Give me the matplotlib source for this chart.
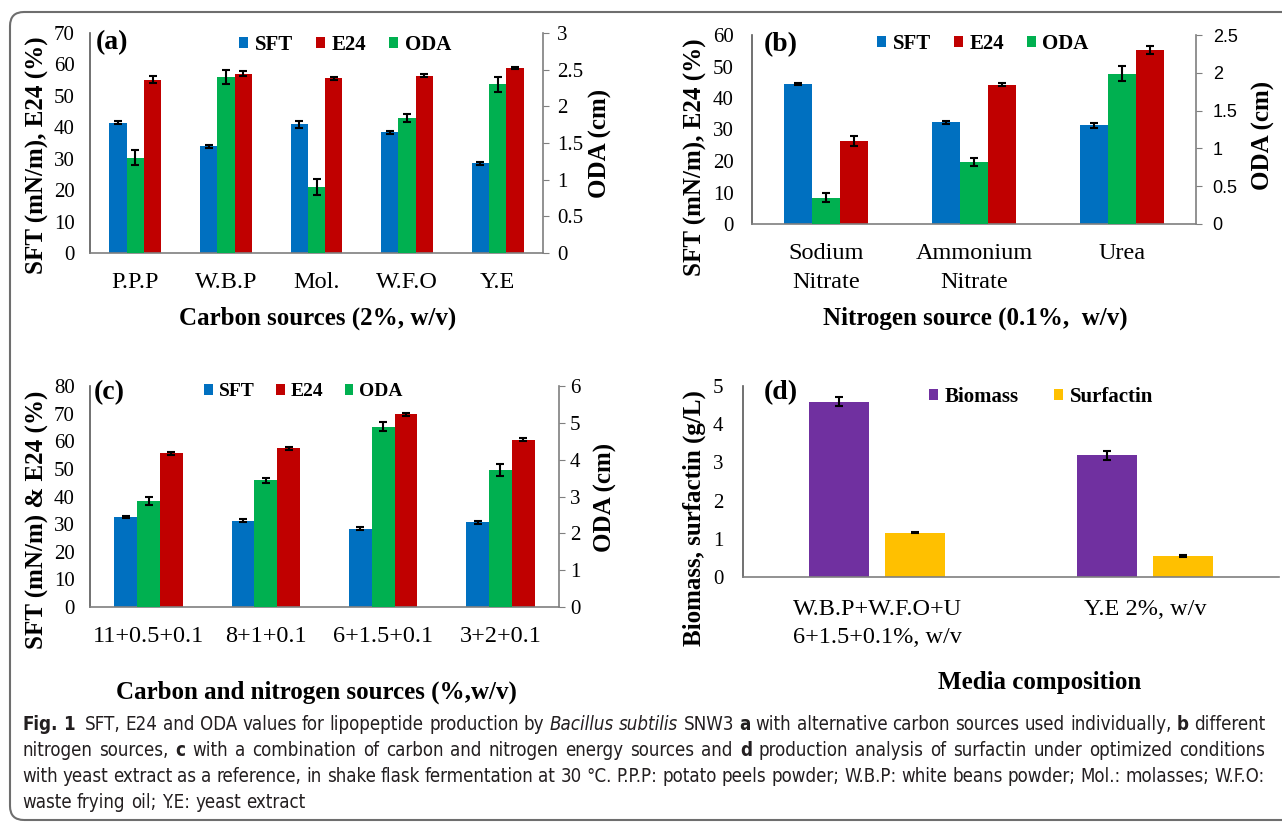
import os
import matplotlib
matplotlib.use("Agg")
import matplotlib.pyplot as plt
import matplotlib.transforms as mtransforms
from matplotlib.patches import FancyBboxPatch
from matplotlib import font_manager
from matplotlib.font_manager import FontProperties
from matplotlib.ticker import FuncFormatter
import numpy as np

# ---- data ----
carbon = ["P.P.P", "W.B.P", "Mol.", "W.F.O", "Y.E"]
a_sft = [41.4, 33.9, 41.0, 38.4, 28.5]
a_sft_err = [0.5, 0.5, 1.1, 0.4, 0.4]
a_e24 = [55.2, 57.1, 55.6, 56.4, 58.9]
a_e24_err = [1.0, 0.8, 0.5, 0.5, 0.3]
a_oda = [1.30, 2.40, 0.90, 1.84, 2.30]
a_oda_err = [0.10, 0.10, 0.11, 0.06, 0.10]

nitrogen = ["Sodium\nNitrate", "Ammonium\nNitrate", "Urea"]
b_sft = [44.4, 32.3, 31.3]
b_sft_err = [0.4, 0.4, 0.8]
b_e24 = [26.3, 44.2, 55.2]
b_e24_err = [1.6, 0.5, 1.2]
b_oda = [0.35, 0.82, 1.99]
b_oda_err = [0.06, 0.05, 0.10]

combo = ["11+0.5+0.1", "8+1+0.1", "6+1.5+0.1", "3+2+0.1"]
c_sft = [32.6, 31.2, 28.4, 30.6]
c_sft_err = [0.5, 0.6, 0.5, 0.5]
c_e24 = [55.6, 57.4, 69.7, 60.6]
c_e24_err = [0.5, 0.4, 0.5, 0.5]
c_oda = [2.88, 3.44, 4.89, 3.72]
c_oda_err = [0.12, 0.06, 0.12, 0.16]

media = ["W.B.P+W.F.O+U\n6+1.5+0.1%, w/v", "Y.E 2%, w/v"]
d_biomass = [4.59, 3.19]
d_biomass_err = [0.12, 0.12]
d_surf = [1.16, 0.55]
d_surf_err = [0.02, 0.02]

BLUE, RED, GREEN = "#0070C0", "#C00000", "#00B050"
PURPLE, GOLD = "#7030A0", "#FFC000"
SPINE = "#7f7f7f"
SERIF = "Liberation Serif"
SANS = "Liberation Sans"

W, H = 1282, 822
fig = plt.figure(figsize=(W / 100, H / 100), dpi=100)
plt.rcParams["font.family"] = SERIF


def px_axes(l, r, b, t):
    return fig.add_axes([l / W, 1 - b / H, (r - l) / W, (b - t) / H])


def style_left(ax, pad):
    for s in ["top", "right"]:
        ax.spines[s].set_visible(False)
    ax.spines["left"].set_color("#595959")
    ax.spines["bottom"].set_color(SPINE)
    ax.spines["left"].set_linewidth(1.2)
    ax.spines["bottom"].set_linewidth(1.2)
    ax.tick_params(axis="y", length=0, pad=pad, labelsize=15)
    ax.tick_params(axis="x", length=0, labelsize=17.5)


def style_right(ax2, family, size, pad):
    for s in ["top", "left", "bottom"]:
        ax2.spines[s].set_visible(False)
    ax2.spines["right"].set_color(SPINE)
    ax2.spines["right"].set_linewidth(1.2)
    ax2.tick_params(axis="y", length=4, color=SPINE, pad=pad, labelsize=size)
    for lab in ax2.get_yticklabels():
        lab.set_family(family)
    ax2.yaxis.set_major_formatter(FuncFormatter(lambda v, p: "%g" % v))


ekw = dict(ecolor="black", elinewidth=1.5, capsize=3, capthick=1.5)


def triple_panel(box, cats, sft, sft_e, oda, oda_e, e24, e24_e, ymax, ystep,
                 omax, ostep, w, rfam, rsize, rpad, lpad, xpad, letter, letpos,
                 legpos, legsize, xlabel, xlpos, ylabel, ylpos, rlpos):
    ax = px_axes(*box)
    x = np.arange(len(cats))
    ax.bar(x - w, sft, w, color=BLUE, yerr=sft_e, error_kw=ekw, label="SFT")
    ax.bar(x + w, e24, w, color=RED, yerr=e24_e, error_kw=ekw, label="E24")
    ax.set_xlim(-0.5, len(cats) - 0.5)
    ax.set_ylim(0, ymax)
    ax.set_yticks(np.arange(0, ymax + 0.01, ystep))
    ax.set_xticks(x)
    ax.set_xticklabels(cats)
    for lab in ax.get_xticklabels():
        lab.set_linespacing(1.45)
    style_left(ax, lpad)
    ax.tick_params(axis="x", pad=xpad)
    ax2 = ax.twinx()
    ax2.bar(x, oda, w, color=GREEN, yerr=oda_e, error_kw=ekw, label="ODA")
    ax2.set_ylim(0, omax)
    ax2.set_yticks(np.arange(0, omax + 0.001, ostep))
    style_right(ax2, rfam, rsize, rpad)
    h1, l1 = ax.get_legend_handles_labels()
    h2, l2 = ax2.get_legend_handles_labels()
    ax2.legend(h1 + h2, l1 + l2, loc="center", bbox_to_anchor=legpos,
               ncol=3, frameon=False, handlelength=0.45,
               handleheight=0.45, handletextpad=0.3, columnspacing=1.1,
               prop=dict(family=SERIF, weight="bold", size=legsize))
    ax.text(letpos[0], letpos[1], letter, transform=ax.transAxes, ha="left",
            va="center", fontsize=20, fontweight="bold")
    ax.set_xlabel(xlabel, fontsize=18, fontweight="bold")
    ax.xaxis.set_label_coords(*xlpos)
    ax.xaxis.label.set_va("center")
    ax.set_ylabel(ylabel, fontsize=18, fontweight="bold")
    ax.yaxis.set_label_coords(*ylpos)
    ax.yaxis.label.set_va("center")
    ax2.set_ylabel("ODA (cm)", fontsize=18, fontweight="bold")
    ax2.yaxis.set_label_coords(*rlpos)
    ax2.yaxis.label.set_va("center")
    return ax, ax2


# (a)
triple_panel((90, 543, 253, 33), carbon, a_sft, a_sft_err, a_oda, a_oda_err,
             a_e24, a_e24_err, 70, 10, 3, 0.5, 0.19, SERIF, 15, 6, 11, 14,
             "(a)", (0.013, 0.955), (0.563, 0.945), 15,
             "Carbon sources (2%, w/v)", (0.503, -0.295),
             "SFT (mN/m), E24 (%)", (-0.115, 0.445), (1.126, 0.5))

# (b)
triple_panel((752, 1196, 224, 35), nitrogen, b_sft, b_sft_err, b_oda,
             b_oda_err, b_e24, b_e24_err, 60, 10, 2.5, 0.5, 0.19, SANS, 13, 8,
             13, 14, "(b)", (0.027, 0.947), (0.52, 0.952), 15,
             "Nitrogen source (0.1%,  w/v)", (0.502, -0.497),
             "SFT (mN/m), E24 (%)", (-0.128, 0.354), (1.153, 0.466))

# (c)
triple_panel((90, 559, 607, 386), combo, c_sft, c_sft_err, c_oda, c_oda_err,
             c_e24, c_e24_err, 80, 10, 6, 1, 0.195, SERIF, 15, 4, 11, 14,
             "(c)", (0.009, 0.968), (0.455, 0.973), 14,
             "Carbon and nitrogen sources (%,w/v)", (0.482, -0.385),
             "SFT (mN/m) & E24 (%)", (-0.113, 0.396), (1.10, 0.498))

# (d)
axd = px_axes(743, 1279, 577, 386)
xd = np.arange(len(media))
wd = 0.224
axd.bar(xd - 0.142, d_biomass, wd, color=PURPLE, yerr=d_biomass_err,
        error_kw=ekw, label="Biomass")
axd.bar(xd + 0.142, d_surf, wd, color=GOLD, yerr=d_surf_err, error_kw=ekw,
        label="Surfactin")
axd.set_xlim(-0.5, len(media) - 0.5)
axd.set_ylim(0, 5)
axd.set_yticks(range(0, 6))
axd.set_xticks(xd)
axd.set_xticklabels(media)
for lab in axd.get_xticklabels():
    lab.set_linespacing(1.4)
style_left(axd, 14)
axd.tick_params(axis="x", pad=16)
axd.legend(loc="center", bbox_to_anchor=(0.556, 0.942), ncol=2, frameon=False,
           handlelength=0.45, handleheight=0.45, handletextpad=0.3,
           columnspacing=1.7, prop=dict(family=SERIF, weight="bold", size=15))
axd.text(0.039, 0.963, "(d)", transform=axd.transAxes, ha="left", va="center",
         fontsize=20, fontweight="bold")
axd.set_xlabel("Media composition", fontsize=18, fontweight="bold")
axd.xaxis.set_label_coords(0.554, -0.55)
axd.xaxis.label.set_va("center")
axd.set_ylabel("Biomass, surfactin (g/L)", fontsize=18, fontweight="bold")
axd.yaxis.set_label_coords(-0.09, 0.31)
axd.yaxis.label.set_va("center")

# ---- frame ----
frame = FancyBboxPatch((10, H - 820), 1320, 808,
                       boxstyle="round,pad=0,rounding_size=14",
                       transform=mtransforms.IdentityTransform(),
                       facecolor="none", edgecolor="#6e6e6e", linewidth=1.5)
fig.patches.append(frame)

# ---- caption ----
files = {os.path.basename(f.fname): f.fname for f in font_manager.fontManager.ttflist}
cap_files = None
for trio in [("LiberationSansNarrow-Regular.ttf", "LiberationSansNarrow-Bold.ttf",
              "LiberationSansNarrow-Italic.ttf"),
             ("DejaVuSansCondensed.ttf", "DejaVuSansCondensed-Bold.ttf",
              "DejaVuSansCondensed-Oblique.ttf")]:
    if all(t in files for t in trio):
        cap_files = [files[t] for t in trio]
        break

CAP = "#231F20"
N, B, I = "normal", "bold", "italic"


def cap_fp(st, size):
    if cap_files:
        return FontProperties(fname=cap_files[[N, B, I].index(st)], size=size)
    return FontProperties(family="DejaVu Sans", size=size,
                          weight="bold" if st == B else "normal",
                          style="italic" if st == I else "normal")


caption = [
    [("Fig. 1", B), ("", N), ("SFT, E24 and ODA values for lipopeptide production by", N),
     ("Bacillus subtilis", I), ("SNW3", N), ("a", B),
     ("with alternative carbon sources used individually,", N), ("b", B),
     ("different", N)],
    [("nitrogen sources,", N), ("c", B),
     ("with a combination of carbon and nitrogen energy sources and", N),
     ("d", B), ("production analysis of surfactin under optimized conditions", N)],
    [("with yeast extract as a reference, in shake flask fermentation at 30 °C. "
      "P.P.P: potato peels powder; W.B.P: white beans powder; Mol.: molasses; W.F.O:", N)],
    [("waste frying oil; Y.E: yeast extract", N)],
]
justify = [True, True, True, False]
x0, target = 22, 1243
line_y = [724, 750, 776, 802]
renderer = fig.canvas.get_renderer()


def tokens(line):
    out = []
    for s, st in line:
        if s == "":
            out.append(("", st))
        for wd_ in s.split(" "):
            if wd_:
                out.append((wd_, st))
    return out


def text_w(s, st, size):
    if s == "":
        return 0.0
    t = fig.text(0, 0, s, fontproperties=cap_fp(st, size))
    w_ = t.get_window_extent(renderer).width
    t.remove()
    return w_


def space_w(size):
    return text_w("x x", N, size) - text_w("xx", N, size)


def natural(line, size):
    toks = tokens(line)
    return sum(text_w(s, st, size) for s, st in toks) + space_w(size) * (len(toks) - 1)


size = 12.0
size = min(13.5, size * target / natural(caption[0], size))
sp_nat = space_w(size)
for line, just, y in zip(caption, justify, line_y):
    toks = tokens(line)
    ws = [text_w(s, st, size) for s, st in toks]
    sp = sp_nat
    if just and len(toks) > 1:
        sp = (target - sum(ws)) / (len(toks) - 1)
    x = x0
    for (s, st), w_ in zip(toks, ws):
        if s:
            fig.text(x / W, 1 - y / H, s, fontproperties=cap_fp(st, size),
                     color=CAP, ha="left", va="center")
        x += w_ + sp

fig.savefig("out.png", dpi=100)
